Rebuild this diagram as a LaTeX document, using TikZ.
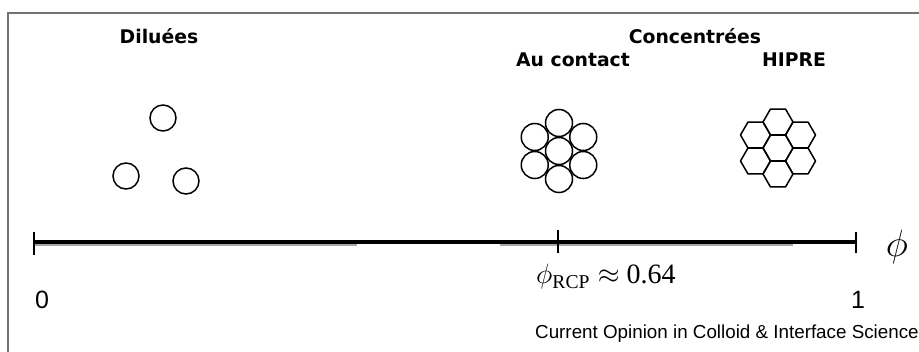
\RequirePackage{fix-cm}
\documentclass[tikz,border=0pt]{standalone}
\usepackage{fontspec}
\setmainfont{Liberation Serif}
\newfontfamily\labfont{DejaVu Sans}
\newfontfamily\capfont{Liberation Sans}
\usetikzlibrary{calc}
\begin{document}
\begin{tikzpicture}[x=1pt,y=-1pt,
  title/.style={font=\labfont\bfseries\fontsize{18.8}{20}\selectfont, anchor=base, inner sep=0pt},
  particle/.style={draw=black, line width=1.5pt, circle, inner sep=0pt, minimum size=#1},
  particle/.default=27pt,
  hexcell/.style={draw=black, line width=1.5pt, line join=round},
  axisline/.style={draw=black, line width=3.2pt},
  tickline/.style={draw=black, line width=1.2pt},
  shadowline/.style={draw=black!35, line width=1.2pt},
  frameline/.style={draw=black!55, line width=2.5pt},
  numlabel/.style={font=\capfont\fontsize{25}{25}\selectfont, inner sep=0pt},
]
\useasboundingbox (0,0) rectangle (919,352);
\fill[white] (0,0) rectangle (919,352);
% frame
\draw[frameline] (8,352) -- (8,13) -- (919,13);

% titles
\node[title] (dil) at (159,44) {Diluées};
\node[title] (conc) at (695,44) {Concentrées};
\node[title] (auc) at (573,67) {Au contact};
\node[title] (hipre) at (794,67) {HIPRE};

% dilute particles
\node[particle=26pt] (d1) at (163,118) {};
\node[particle=26pt] (d2) at (126,176) {};
\node[particle=26pt] (d3) at (186,181) {};

% close packed
\node[particle=27pt] (c0) at (559,151) {};
\foreach \a [count=\i] in {90,30,-30,-90,-150,150}
  \node[particle=27pt] (c\i) at ($(c0)+(\a:28)$) {};

% hexagonal (HIPRE)
\coordinate (h0) at (778,148);
\foreach \p in {(h0), ($(h0)+(90:26)$), ($(h0)+(30:26)$), ($(h0)+(-30:26)$),
               ($(h0)+(-90:26)$), ($(h0)+(-150:26)$), ($(h0)+(150:26)$)}
  \draw[hexcell, shift={\p}] (0:15) -- (60:15) -- (120:15) -- (180:15)
        -- (240:15) -- (300:15) -- cycle;

% axis
\coordinate (a0) at (34,242);
\coordinate (am) at (558,242);
\coordinate (a1) at (856,242);
\draw[shadowline] (34,245) -- (357,245);
\draw[shadowline] (500,245) -- (793,245);
\draw[axisline] (a0) -- (a1);
\draw[tickline] ($(a0)+(0,-10)$) -- ($(a0)+(0,13)$);
\draw[tickline] ($(am)+(0,-12)$) -- ($(am)+(0,11)$);
\draw[tickline] ($(a1)+(0,-10)$) -- ($(a1)+(0,11)$);

% labels
\node[numlabel] (zero) at (42,300) {0};
\node[numlabel] (one) at (858,300) {1};
\node[anchor=base west, inner sep=0pt, font=\fontsize{28}{28}\selectfont] (rcp) at (536,284)
  {$\phi_{\mathrm{RCP}} \approx$ 0.64};
\node[inner sep=0pt, font=\fontsize{38}{38}\selectfont] (phi) at (897,247) {$\phi$};

% caption
\node[anchor=base west, inner sep=0pt, font=\capfont\fontsize{18.8}{21}\selectfont] (cap) at (535,339)
  {Current Opinion in Colloid \& Interface Science};
\end{tikzpicture}
\end{document}
